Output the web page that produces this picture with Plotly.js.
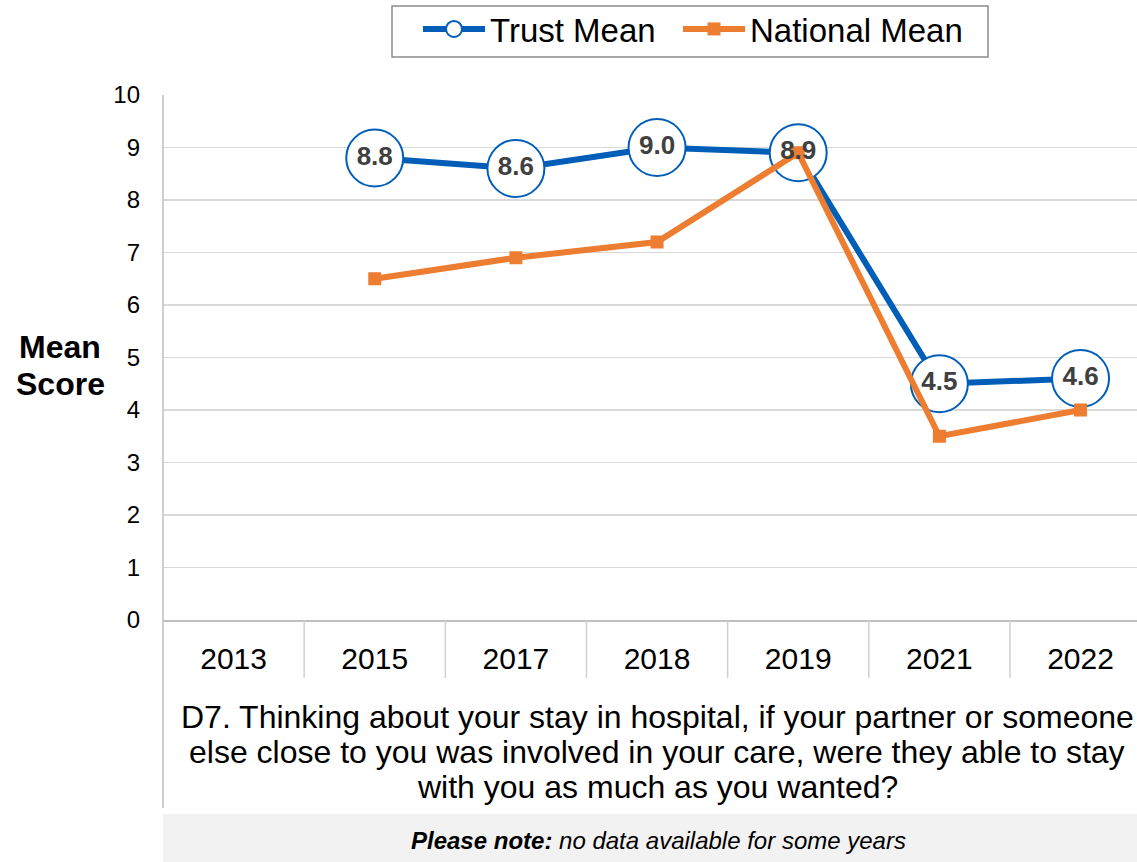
<!DOCTYPE html>
<html>
<head>
<meta charset="utf-8">
<script src="https://cdn.plot.ly/plotly-3.0.1.min.js"></script>
<style>html,body{margin:0;padding:0;background:#fff;}#chart{width:1137px;height:862px;}</style>
</head>
<body>
<div id="chart"></div>
<script>
const years = ["2013", "2015", "2017", "2018", "2019", "2021", "2022"];
const trustMean = [null, 8.8, 8.6, 9.0, 8.9, 4.5, 4.6];
const nationalMean = [null, 6.5, 6.9, 7.2, 8.9, 3.5, 4.0];
const yTicks = [0, 1, 2, 3, 4, 5, 6, 7, 8, 9, 10];
const yTitleLines = ["Mean", "Score"];
const questionLines = [
  "D7. Thinking about your stay in hospital, if your partner or someone",
  "else close to you was involved in your care, were they able to stay",
  "with you as much as you wanted?"
];
const noteText = "<b><i>Please note:</i></b><i> no data available for some years</i>";

const FONT = "Arial, 'Liberation Sans', sans-serif";
const BLUE = "#005EB8";
const ORANGE = "#ED7D31";

const traces = [
  {
    x: years, y: trustMean, name: "Trust Mean", type: "scatter", mode: "lines+markers",
    line: {color: BLUE, width: 6},
    marker: {symbol: "circle", size: 57, color: "#ffffff", line: {color: BLUE, width: 2}},
    connectgaps: false, hoverinfo: "skip", legendwidth: 183
  },
  {
    x: years, y: nationalMean, name: "National Mean", type: "scatter", mode: "lines+markers",
    line: {color: ORANGE, width: 6},
    marker: {symbol: "square", size: 13, color: ORANGE},
    hoverinfo: "skip", legendwidth: 215
  },
  {
    x: years, y: trustMean, type: "scatter", mode: "text", showlegend: false,
    text: trustMean.map(v => v === null ? "" : v.toFixed(1)),
    textposition: "middle center",
    textfont: {family: FONT, size: 26, color: "#404040", weight: "bold"},
    hoverinfo: "skip"
  }
];

const paperY = py => (620 - py) / 525;
const paperX = px => (px - 163) / 974;

const shapes = [
  {type: "rect", xref: "paper", yref: "paper", x0: 0, x1: 1.01, y0: paperY(814), y1: paperY(870),
   fillcolor: "#F2F2F2", line: {width: 0}, layer: "below"},
  {type: "line", xref: "paper", yref: "paper", x0: 0, x1: 0, y0: 1, y1: paperY(808),
   line: {color: "#BFBFBF", width: 1.5}},
  {type: "rect", xref: "paper", yref: "paper", x0: paperX(392), x1: paperX(988), y0: paperY(6), y1: paperY(57),
   fillcolor: "rgba(0,0,0,0)", line: {color: "#8C8C8C", width: 1.5}}
];
for (let i = 0; i < years.length - 1; i++) {
  shapes.push({type: "line", xref: "x", yref: "paper", x0: i + 0.5, x1: i + 0.5, y0: 0, y1: paperY(678),
    line: {color: "#D0D0D0", width: 1.5}});
}

const annotations = [];
const yTitleCenters = [347, 384];
yTitleLines.forEach((t, i) => annotations.push({
  text: "<b>" + t + "</b>", xref: "paper", yref: "paper", x: paperX(60), y: paperY(yTitleCenters[i]),
  xanchor: "center", yanchor: "middle", showarrow: false,
  font: {family: FONT, size: 32, color: "#000000"}
}));
const qCenters = [717, 752, 787];
questionLines.forEach((t, i) => annotations.push({
  text: t, xref: "paper", yref: "paper", x: paperX(657), y: paperY(qCenters[i]),
  xanchor: "center", yanchor: "middle", showarrow: false,
  font: {family: FONT, size: 32, color: "#000000"}
}));
annotations.push({
  text: noteText, xref: "paper", yref: "paper", x: paperX(658), y: paperY(840),
  xanchor: "center", yanchor: "middle", showarrow: false,
  font: {family: FONT, size: 24, color: "#000000"}
});

const layout = {
  width: 1137, height: 862,
  margin: {l: 163, r: 0, t: 95, b: 242, pad: 0},
  paper_bgcolor: "#ffffff", plot_bgcolor: "#ffffff",
  font: {family: FONT, color: "#000000"},
  showlegend: true,
  legend: {
    orientation: "h", x: paperX(418), xanchor: "left", y: paperY(1), yanchor: "top",
    font: {family: FONT, size: 33, color: "#000000"},
    borderwidth: 0, bgcolor: "rgba(0,0,0,0)",
    itemwidth: 62
  },
  xaxis: {
    type: "category", categoryorder: "array", categoryarray: years,
    range: [-0.5, 6.4], showgrid: false, zeroline: false,
    showline: true, linecolor: "#BFBFBF", linewidth: 1.5,
    ticks: "", tickfont: {family: FONT, size: 30, color: "#000000"},
    ticklabelstandoff: 11, fixedrange: true
  },
  yaxis: {
    range: [0, 10], tickvals: yTicks, ticktext: yTicks.map(String),
    showgrid: true, gridcolor: "#D9D9D9", gridwidth: 1.2, zeroline: false,
    showline: false, ticks: "", tickfont: {family: FONT, size: 24, color: "#000000"},
    ticklabelstandoff: 22, fixedrange: true
  },
  shapes: shapes,
  annotations: annotations
};

Plotly.newPlot("chart", traces, layout, {displayModeBar: false, staticPlot: true});
</script>
</body>
</html>
